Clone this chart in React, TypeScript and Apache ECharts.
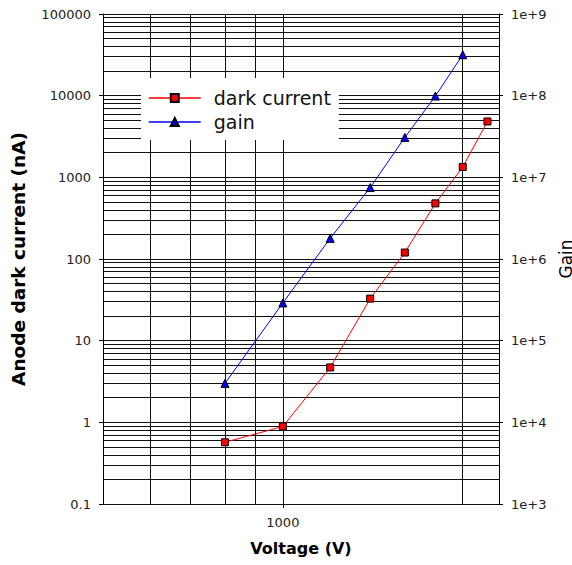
import { useEffect, useRef } from 'react';
import * as echarts from 'echarts';

// Dark current (left axis, nA) vs voltage (V)
const darkVoltage = [800, 1000, 1200, 1400, 1600, 1800, 2000, 2200];
const darkCurrent = [0.57, 0.89, 4.7, 32.7, 120, 480, 1340, 4830];

// Gain (right axis) vs voltage (V)
const gainVoltage = [800, 1000, 1200, 1400, 1600, 1800, 2000];
const gainValues = [3.0e4, 2.9e5, 1.79e6, 7.5e6, 3.08e7, 9.9e7, 3.17e8];

// Axis ranges and grid positions
const xMin = 500;
const xMax = 2300;
const xGridValues = [600, 700, 800, 900, 1000, 2000];
const xLabelValues = [1000];
const leftMin = 0.1;
const leftMax = 100000;
const rightMin = 1e3;
const rightMax = 1e9;
const leftDecades = [0.1, 1, 10, 100, 1000, 10000];
const decadeMultipliers = [1, 2, 3, 4, 5, 6, 7, 8, 9];

const FONT = 'DejaVu Sans';

export default function App() {
  const ref = useRef<HTMLDivElement>(null);

  useEffect(() => {
    const chart = echarts.init(ref.current!, null, { renderer: 'svg' });

    const gridLines: any[] = [];
    for (const d of leftDecades) {
      for (const m of decadeMultipliers) {
        gridLines.push({ yAxis: Number((d * m).toPrecision(6)) });
      }
    }
    gridLines.push({ yAxis: leftMax });
    for (const v of xGridValues) gridLines.push({ xAxis: v });

    chart.setOption({
      animation: false,
      backgroundColor: '#fff',
      grid: {
        left: 103,
        right: 73,
        top: 14,
        bottom: 61,
        containLabel: false,
        outerBoundsMode: 'none',
      },
      legend: {
        data: ['dark current', 'gain'],
        orient: 'vertical',
        left: 141,
        top: 78,
        backgroundColor: '#fff',
        padding: [10, 8, 8, 7],
        itemWidth: 52,
        itemHeight: 10,
        itemGap: 4,
        selectedMode: false,
        lineStyle: { width: 1.5 },
        textStyle: {
          fontFamily: FONT,
          fontSize: 19,
          color: '#111',
          lineHeight: 20,
          padding: [0, 0, 0, 8],
        },
      },
      xAxis: {
        type: 'log',
        logBase: 10,
        min: xMin,
        max: xMax,
        name: 'Voltage (V)',
        nameLocation: 'middle',
        nameGap: 36,
        nameTextStyle: { fontFamily: FONT, fontSize: 16, fontWeight: 'bold', color: '#000' },
        axisLine: { show: true, lineStyle: { color: '#000', width: 1 } },
        axisTick: { show: true, inside: false, length: 4, lineStyle: { color: '#000' }, customValues: xLabelValues },
        axisLabel: {
          customValues: xLabelValues,
          margin: 12,
          fontFamily: FONT,
          fontSize: 13,
          color: '#222',
          formatter: (v: number) => (xLabelValues.includes(Math.round(v)) ? String(Math.round(v)) : ''),
        },
        splitLine: { show: false },
        minorTick: { show: false },
      },
      yAxis: [
        {
          type: 'log',
          logBase: 10,
          min: leftMin,
          max: leftMax,
          position: 'left',
          name: 'Anode dark current (nA)',
          nameLocation: 'middle',
          nameRotate: 90,
          nameGap: 75,
          nameTextStyle: { fontFamily: FONT, fontSize: 18.5, fontWeight: 'bold', color: '#000' },
          axisLine: { show: true, lineStyle: { color: '#000', width: 1 } },
          axisTick: { show: true, inside: false, length: 4, lineStyle: { color: '#000' } },
          axisLabel: {
            margin: 12,
            fontFamily: FONT,
            fontSize: 13,
            color: '#222',
            formatter: (v: number) => String(Number(v.toPrecision(6))),
          },
          splitLine: { show: false },
        },
        {
          type: 'log',
          logBase: 10,
          min: rightMin,
          max: rightMax,
          position: 'right',
          name: 'Gain',
          nameLocation: 'middle',
          nameRotate: 90,
          nameGap: 41,
          nameTextStyle: { fontFamily: FONT, fontSize: 17, color: '#000' },
          axisLine: { show: true, lineStyle: { color: '#000', width: 1 } },
          axisTick: { show: true, inside: false, length: 4, lineStyle: { color: '#000' } },
          axisLabel: {
            margin: 12,
            fontFamily: FONT,
            fontSize: 13,
            color: '#222',
            formatter: (v: number) => '1e+' + Math.round(Math.log10(v)),
          },
          splitLine: { show: false },
        },
      ],
      series: [
        {
          name: 'dark current',
          type: 'line',
          xAxisIndex: 0,
          yAxisIndex: 0,
          data: darkVoltage.map((x, i) => [x, darkCurrent[i]]),
          symbol: 'rect',
          symbolSize: 7,
          z: 3,
          itemStyle: { color: '#ff0000', borderColor: '#000', borderWidth: 1 },
          lineStyle: { color: '#ff0000', width: 1 },
          markLine: {
            silent: true,
            z: 1,
            symbol: ['none', 'none'],
            label: { show: false },
            emphasis: { disabled: true },
            lineStyle: { color: '#111', width: 1, type: 'solid' },
            data: gridLines,
          },
        },
        {
          name: 'gain',
          type: 'line',
          xAxisIndex: 0,
          yAxisIndex: 1,
          data: gainVoltage.map((x, i) => [x, gainValues[i]]),
          symbol: 'triangle',
          symbolSize: 8,
          z: 3,
          itemStyle: { color: '#0000ff', borderColor: '#000', borderWidth: 1 },
          lineStyle: { color: '#0000ff', width: 1 },
        },
      ],
    });

    return () => chart.dispose();
  }, []);

  return (
    <div
      ref={ref}
      style={{ position: 'absolute', left: 0, top: 0, width: 572, height: 565 }}
    />
  );
}
